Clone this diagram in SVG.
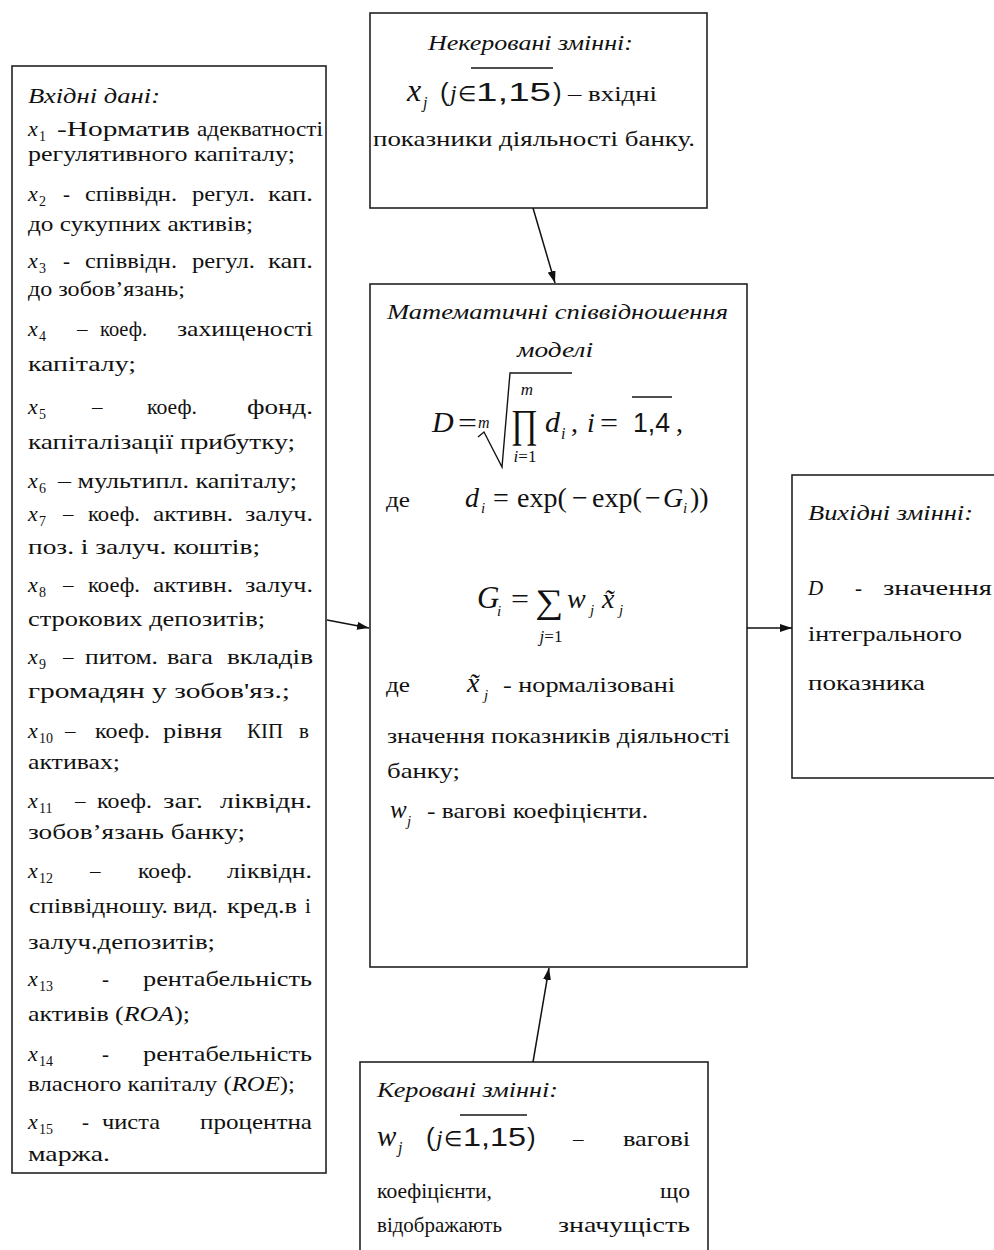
<svg xmlns="http://www.w3.org/2000/svg" width="994" height="1250" viewBox="0 0 994 1250">
<style>
.t{font-family:"Liberation Serif","Times New Roman",serif;font-size:21px;fill:#111}
.it{font-style:italic}
.v{font-style:italic;font-size:22px}
.s{font-size:14px}
.fm{font-size:28px}
.sn{font-family:"Liberation Sans",Arial,sans-serif;font-size:26px;fill:#151515}
.box{fill:#fff;stroke:#222;stroke-width:1.6}
.ln{stroke:#111;stroke-width:1.5;fill:none}
.ol{stroke:#151515;stroke-width:1.4;fill:none}
</style>
<defs>
<marker id="ah" viewBox="0 0 12 8" refX="12" refY="4" markerWidth="12" markerHeight="8" markerUnits="userSpaceOnUse" orient="auto"><path d="M0,0 L12,4 L0,8 z" fill="#111"/></marker>
</defs>
<rect width="994" height="1250" fill="#fff"/>

<g id="node-inputs">
<rect class="box" x="12" y="66" width="314" height="1107"/>
<text class="t it" x="28" y="103" textLength="132" lengthAdjust="spacingAndGlyphs">Вхідні дані:</text>
<text class="t v" x="28" y="136">x</text><text class="t s" x="39" y="141">1</text>
<text class="t" x="57" y="136" textLength="133" lengthAdjust="spacingAndGlyphs">-Норматив</text>
<text class="t" x="197" y="136" textLength="126" lengthAdjust="spacingAndGlyphs">адекватності</text>
<text class="t" x="28" y="161" textLength="267" lengthAdjust="spacingAndGlyphs">регулятивного капіталу;</text>
<text class="t v" x="28" y="201">x</text><text class="t s" x="39" y="206">2</text>
<text class="t" x="63" y="201">-</text>
<text class="t" x="85" y="201" textLength="92" lengthAdjust="spacingAndGlyphs">співвідн.</text>
<text class="t" x="192" y="201" textLength="63" lengthAdjust="spacingAndGlyphs">регул.</text>
<text class="t" x="268" y="201" textLength="45" lengthAdjust="spacingAndGlyphs">кап.</text>
<text class="t" x="28" y="231" textLength="225" lengthAdjust="spacingAndGlyphs">до сукупних активів;</text>
<text class="t v" x="28" y="268">x</text><text class="t s" x="39" y="273">3</text>
<text class="t" x="63" y="268">-</text>
<text class="t" x="85" y="268" textLength="92" lengthAdjust="spacingAndGlyphs">співвідн.</text>
<text class="t" x="192" y="268" textLength="63" lengthAdjust="spacingAndGlyphs">регул.</text>
<text class="t" x="268" y="268" textLength="45" lengthAdjust="spacingAndGlyphs">кап.</text>
<text class="t" x="28" y="296" textLength="157" lengthAdjust="spacingAndGlyphs">до зобов’язань;</text>
<text class="t v" x="28" y="336">x</text><text class="t s" x="39" y="341">4</text>
<text class="t" x="77" y="336">–</text>
<text class="t" x="100" y="336" textLength="47" lengthAdjust="spacingAndGlyphs">коеф.</text>
<text class="t" x="177" y="336" textLength="136" lengthAdjust="spacingAndGlyphs">захищеності</text>
<text class="t" x="28" y="371" textLength="108" lengthAdjust="spacingAndGlyphs">капіталу;</text>
<text class="t v" x="28" y="414">x</text><text class="t s" x="39" y="419">5</text>
<text class="t" x="92" y="414">–</text>
<text class="t" x="147" y="414" textLength="50" lengthAdjust="spacingAndGlyphs">коеф.</text>
<text class="t" x="247" y="414" textLength="66" lengthAdjust="spacingAndGlyphs">фонд.</text>
<text class="t" x="28" y="449" textLength="267" lengthAdjust="spacingAndGlyphs">капіталізації прибутку;</text>
<text class="t v" x="28" y="488">x</text><text class="t s" x="39" y="493">6</text>
<text class="t" x="58" y="488" textLength="239" lengthAdjust="spacingAndGlyphs">– мультипл. капіталу;</text>
<text class="t v" x="28" y="521">x</text><text class="t s" x="39" y="526">7</text>
<text class="t" x="63" y="521">–</text>
<text class="t" x="88" y="521" textLength="52" lengthAdjust="spacingAndGlyphs">коеф.</text>
<text class="t" x="153" y="521" textLength="80" lengthAdjust="spacingAndGlyphs">активн.</text>
<text class="t" x="245" y="521" textLength="68" lengthAdjust="spacingAndGlyphs">залуч.</text>
<text class="t" x="28" y="554" textLength="232" lengthAdjust="spacingAndGlyphs">поз. і залуч. коштів;</text>
<text class="t v" x="28" y="592">x</text><text class="t s" x="39" y="597">8</text>
<text class="t" x="63" y="592">–</text>
<text class="t" x="88" y="592" textLength="52" lengthAdjust="spacingAndGlyphs">коеф.</text>
<text class="t" x="153" y="592" textLength="80" lengthAdjust="spacingAndGlyphs">активн.</text>
<text class="t" x="245" y="592" textLength="68" lengthAdjust="spacingAndGlyphs">залуч.</text>
<text class="t" x="28" y="626" textLength="237" lengthAdjust="spacingAndGlyphs">строкових депозитів;</text>
<text class="t v" x="28" y="664">x</text><text class="t s" x="39" y="669">9</text>
<text class="t" x="63" y="664">–</text>
<text class="t" x="85" y="664" textLength="73" lengthAdjust="spacingAndGlyphs">питом.</text>
<text class="t" x="167" y="664" textLength="46" lengthAdjust="spacingAndGlyphs">вага</text>
<text class="t" x="227" y="664" textLength="86" lengthAdjust="spacingAndGlyphs">вкладів</text>
<text class="t" x="28" y="698" textLength="262" lengthAdjust="spacingAndGlyphs">громадян у зобов'яз.;</text>
<text class="t v" x="28" y="738">x</text><text class="t s" x="39" y="743">10</text>
<text class="t" x="65" y="738">–</text>
<text class="t" x="95" y="738" textLength="55" lengthAdjust="spacingAndGlyphs">коеф.</text>
<text class="t" x="163" y="738" textLength="59" lengthAdjust="spacingAndGlyphs">рівня</text>
<text class="t" x="247" y="738" textLength="36" lengthAdjust="spacingAndGlyphs">КІП</text>
<text class="t" x="299" y="738">в</text>
<text class="t" x="28" y="769" textLength="92" lengthAdjust="spacingAndGlyphs">активах;</text>
<text class="t v" x="28" y="808">x</text><text class="t s" x="39" y="813">11</text>
<text class="t" x="75" y="808">–</text>
<text class="t" x="97" y="808" textLength="55" lengthAdjust="spacingAndGlyphs">коеф.</text>
<text class="t" x="163" y="808" textLength="40" lengthAdjust="spacingAndGlyphs">заг.</text>
<text class="t" x="220" y="808" textLength="92" lengthAdjust="spacingAndGlyphs">ліквідн.</text>
<text class="t" x="28" y="839" textLength="217" lengthAdjust="spacingAndGlyphs">зобов’язань банку;</text>
<text class="t v" x="28" y="878">x</text><text class="t s" x="39" y="883">12</text>
<text class="t" x="90" y="878">–</text>
<text class="t" x="138" y="878" textLength="54" lengthAdjust="spacingAndGlyphs">коеф.</text>
<text class="t" x="227" y="878" textLength="85" lengthAdjust="spacingAndGlyphs">ліквідн.</text>
<text class="t" x="29" y="913" textLength="139" lengthAdjust="spacingAndGlyphs">співвідношу.</text>
<text class="t" x="173" y="913" textLength="45" lengthAdjust="spacingAndGlyphs">вид.</text>
<text class="t" x="227" y="913" textLength="70" lengthAdjust="spacingAndGlyphs">кред.в</text>
<text class="t" x="305" y="913">і</text>
<text class="t" x="28" y="949" textLength="187" lengthAdjust="spacingAndGlyphs">залуч.депозитів;</text>
<text class="t v" x="28" y="986">x</text><text class="t s" x="39" y="991">13</text>
<text class="t" x="102" y="986">-</text>
<text class="t" x="143" y="986" textLength="169" lengthAdjust="spacingAndGlyphs">рентабельність</text>
<text class="t" x="28" y="1021" textLength="162" lengthAdjust="spacingAndGlyphs">активів (<tspan class="it">ROA</tspan>);</text>
<text class="t v" x="28" y="1061">x</text><text class="t s" x="39" y="1066">14</text>
<text class="t" x="102" y="1061">-</text>
<text class="t" x="143" y="1061" textLength="169" lengthAdjust="spacingAndGlyphs">рентабельність</text>
<text class="t" x="28" y="1091" textLength="267" lengthAdjust="spacingAndGlyphs">власного капіталу (<tspan class="it">ROE</tspan>);</text>
<text class="t v" x="28" y="1129">x</text><text class="t s" x="39" y="1134">15</text>
<text class="t" x="82" y="1129">-</text>
<text class="t" x="102" y="1129" textLength="58" lengthAdjust="spacingAndGlyphs">чиста</text>
<text class="t" x="200" y="1129" textLength="112" lengthAdjust="spacingAndGlyphs">процентна</text>
<text class="t" x="28" y="1161" textLength="82" lengthAdjust="spacingAndGlyphs">маржа.</text>
</g>

<g id="node-uncontrolled">
<rect class="box" x="370" y="13" width="337" height="195"/>
<text class="t it" x="428" y="50" textLength="205" lengthAdjust="spacingAndGlyphs">Некеровані змінні:</text>
<text class="t it" x="407" y="101" style="font-size:32px">x</text>
<text class="t it" x="423" y="108" style="font-size:16px">j</text>
<text class="sn" x="440" y="101">(</text>
<text class="t it" x="450" y="101" style="font-size:24px">j</text>
<text class="t" x="458" y="101" style="font-size:21px">∈</text>
<text class="sn" x="476" y="101" textLength="75" lengthAdjust="spacingAndGlyphs">1,15</text>
<line class="ol" x1="471" y1="68" x2="553" y2="68"/>
<text class="sn" x="553" y="101">)</text>
<text class="t" x="568" y="101" textLength="89" lengthAdjust="spacingAndGlyphs">– вхідні</text>
<text class="t" x="373" y="146" textLength="322" lengthAdjust="spacingAndGlyphs">показники діяльності банку.</text>
</g>

<g id="node-model">
<rect class="box" x="370" y="284" width="377" height="683"/>
<text class="t it" x="387" y="319" textLength="341" lengthAdjust="spacingAndGlyphs">Математичні співвідношення</text>
<text class="t it" x="517" y="357" textLength="76" lengthAdjust="spacingAndGlyphs">моделі</text>
<text class="t it" x="432" y="432" style="font-size:30px">D</text>
<text class="t fm" x="458" y="432" textLength="19" lengthAdjust="spacingAndGlyphs">=</text>
<text class="t it" x="478" y="428" style="font-size:16px">m</text>
<path class="ol" d="M478,437 L484,432 L502,467 L510,373 L572,373"/>
<text class="t it" x="527" y="395" text-anchor="middle" style="font-size:17px">m</text>
<text class="t" x="511" y="437" textLength="27" lengthAdjust="spacingAndGlyphs" style="font-size:40px">∏</text>
<text class="t" x="525" y="462" text-anchor="middle" style="font-size:17px"><tspan class="it">i</tspan>=1</text>
<text class="t it" x="545" y="432" style="font-size:30px">d</text>
<text class="t it" x="561" y="439" style="font-size:16px">i</text>
<text class="t fm" x="571" y="432">,</text>
<text class="t fm it" x="587" y="432">i</text>
<text class="t fm" x="600" y="432" textLength="18" lengthAdjust="spacingAndGlyphs">=</text>
<text class="sn" x="633" y="432" textLength="37" lengthAdjust="spacingAndGlyphs" style="font-size:28px">1,4</text>
<line class="ol" x1="632" y1="397" x2="672" y2="397"/>
<text class="t fm" x="676" y="432">,</text>
<text class="t" x="386" y="507" textLength="24" lengthAdjust="spacingAndGlyphs">де</text>
<text class="t fm" y="507"><tspan x="465" font-style="italic">d</tspan><tspan x="481" dy="6" style="font-size:15px" font-style="italic">i</tspan><tspan x="493" dy="-6">=</tspan><tspan x="517">exp(</tspan><tspan x="572">−</tspan><tspan x="592">exp(</tspan><tspan x="645">−</tspan><tspan x="663" font-style="italic">G</tspan><tspan x="683" dy="6" style="font-size:15px" font-style="italic">i</tspan><tspan x="690" dy="-6">))</tspan></text>
<text class="t it" x="477" y="608" style="font-size:31px">G</text>
<text class="t it" x="497" y="616" style="font-size:15px">i</text>
<text class="t fm" x="511" y="608" textLength="18" lengthAdjust="spacingAndGlyphs">=</text>
<text class="t" x="535" y="613" textLength="28" lengthAdjust="spacingAndGlyphs" style="font-size:34px">∑</text>
<text class="t" x="551" y="642" text-anchor="middle" style="font-size:17px"><tspan class="it">j</tspan>=1</text>
<text class="t fm it" x="567" y="608">w</text>
<text class="t it" x="590" y="615" style="font-size:15px">j</text>
<text class="t fm it" x="602" y="608">x̃</text>
<text class="t it" x="619" y="615" style="font-size:15px">j</text>
<text class="t" x="386" y="692" textLength="24" lengthAdjust="spacingAndGlyphs">де</text>
<text class="t fm it" x="467" y="692">x̃</text>
<text class="t it" x="484" y="700" style="font-size:15px">j</text>
<text class="t" x="503" y="692" textLength="172" lengthAdjust="spacingAndGlyphs">- нормалізовані</text>
<text class="t" x="387" y="743" textLength="343" lengthAdjust="spacingAndGlyphs">значення показників діяльності</text>
<text class="t" x="387" y="778" textLength="73" lengthAdjust="spacingAndGlyphs">банку;</text>
<text class="t it" x="390" y="818" style="font-size:25px">w</text>
<text class="t it" x="407" y="826" style="font-size:15px">j</text>
<text class="t" x="427" y="818" textLength="221" lengthAdjust="spacingAndGlyphs">- вагові коефіцієнти.</text>
</g>

<g id="node-outputs">
<rect class="box" x="792" y="475" width="220" height="303"/>
<text class="t it" x="808" y="520" textLength="165" lengthAdjust="spacingAndGlyphs">Вихідні змінні:</text>
<text class="t it" x="808" y="595">D</text>
<text class="t" x="855" y="595">-</text>
<text class="t" x="883" y="595" textLength="109" lengthAdjust="spacingAndGlyphs">значення</text>
<text class="t" x="808" y="641" textLength="154" lengthAdjust="spacingAndGlyphs">інтегрального</text>
<text class="t" x="808" y="690" textLength="117" lengthAdjust="spacingAndGlyphs">показника</text>
</g>

<g id="node-controlled">
<rect class="box" x="360" y="1062" width="348" height="200"/>
<text class="t it" x="377" y="1097" textLength="181" lengthAdjust="spacingAndGlyphs">Керовані змінні:</text>
<text class="t it" x="377" y="1146" style="font-size:29px">w</text>
<text class="t it" x="398" y="1153" style="font-size:16px">j</text>
<text class="sn" x="426" y="1146">(</text>
<text class="t it" x="436" y="1146" style="font-size:24px">j</text>
<text class="t" x="444" y="1146" style="font-size:21px">∈</text>
<text class="sn" x="463" y="1146" textLength="63" lengthAdjust="spacingAndGlyphs">1,15</text>
<line class="ol" x1="460" y1="1115" x2="527" y2="1115"/>
<text class="sn" x="527" y="1146">)</text>
<text class="t" x="573" y="1146">–</text>
<text class="t" x="623" y="1146" textLength="67" lengthAdjust="spacingAndGlyphs">вагові</text>
<text class="t" x="377" y="1198" textLength="115" lengthAdjust="spacingAndGlyphs">коефіцієнти,</text>
<text class="t" x="660" y="1198" textLength="30" lengthAdjust="spacingAndGlyphs">що</text>
<text class="t" x="377" y="1232" textLength="125" lengthAdjust="spacingAndGlyphs">відображають</text>
<text class="t" x="558" y="1232" textLength="132" lengthAdjust="spacingAndGlyphs">значущість</text>
</g>

<g id="connectors">
<path class="ln" d="M533,208 L555,283" marker-end="url(#ah)"/>
<path class="ln" d="M327,620 L369,628" marker-end="url(#ah)"/>
<path class="ln" d="M747,628 L792,628" marker-end="url(#ah)"/>
<path class="ln" d="M533,1062 L549,968" marker-end="url(#ah)"/>
</g>
</svg>
